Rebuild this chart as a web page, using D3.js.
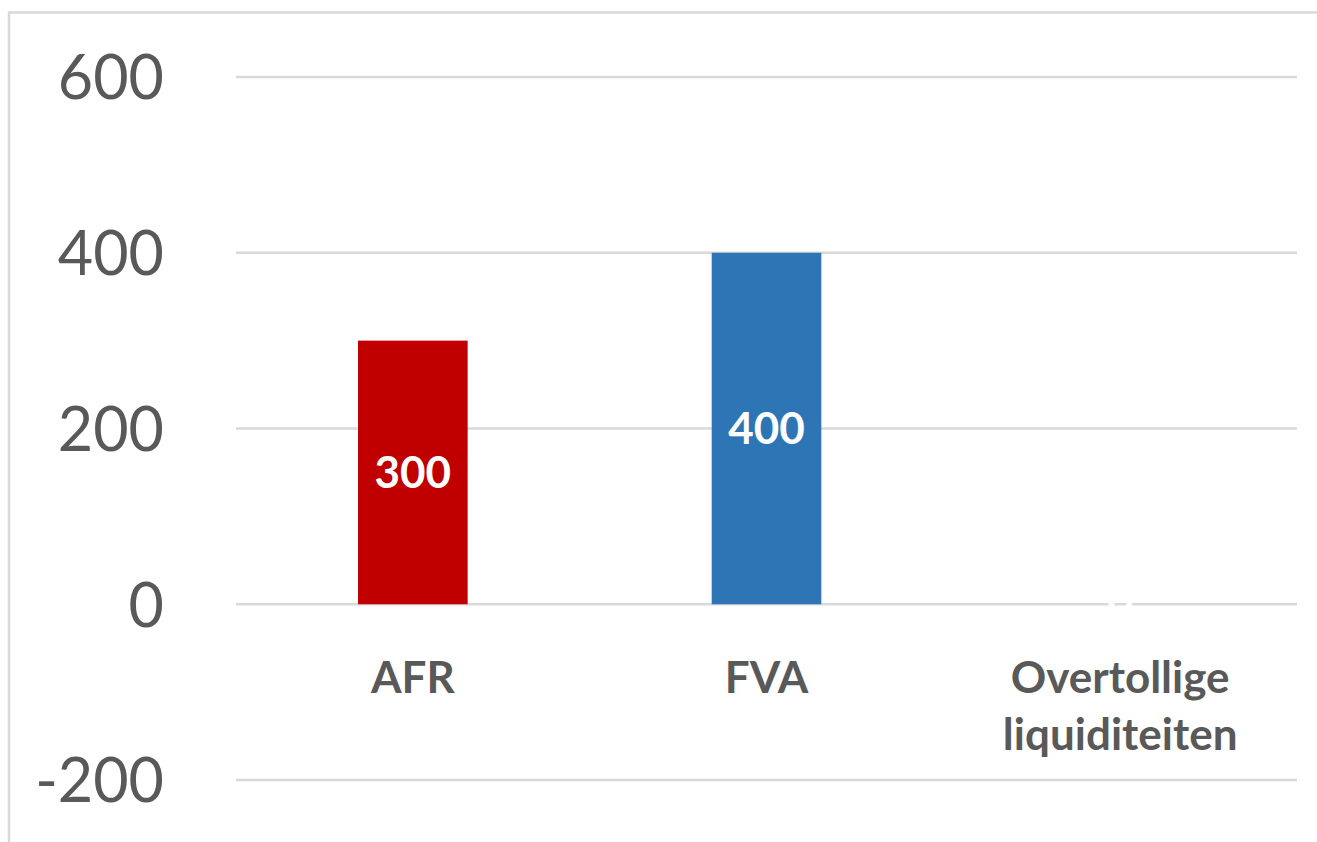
<!DOCTYPE html>
<html>
<head>
<meta charset="utf-8">
<script src="https://cdn.jsdelivr.net/npm/d3@7"></script>
<style>
  html, body { margin: 0; padding: 0; background: #fff; }
  svg { display: block; font-family: Lato, "Open Sans", sans-serif; }
</style>
</head>
<body>
<svg id="chart" width="1317" height="842"></svg>
<script>
// chart data
var categories = [["AFR"], ["FVA"], ["Overtollige", "liquiditeiten"]];
var values = [300, 400, 0];
var barColors = ["#C00000", "#2E75B6", "#A5A5A5"];
var yTicks = [-200, 0, 200, 400, 600];

var svg = d3.select("#chart");
var margin = { top: 77, right: 20, bottom: 62, left: 236 };
var width = 1297 - margin.left;
var height = 780 - margin.top;

// frame (only top and left edges visible in the original)
svg.append("path")
    .attr("d", "M9,842V12.5H1317")
    .attr("fill", "none")
    .attr("stroke", "#d9d9d9")
    .attr("stroke-width", 2.5);

var g = svg.append("g")
    .attr("transform", "translate(" + margin.left + "," + margin.top + ")");

var x = d3.scaleBand()
    .domain(d3.range(categories.length))
    .range([0, width])
    .paddingInner(0.69)
    .paddingOuter(0.345);

var y = d3.scaleLinear()
    .domain([-200, 600])
    .range([height, 0]);

// gridlines
g.append("g")
    .selectAll("line")
    .data(yTicks)
    .enter()
    .append("line")
    .attr("x1", 0)
    .attr("x2", width)
    .attr("y1", function (d) { return y(d); })
    .attr("y2", function (d) { return y(d); })
    .attr("stroke", "#d9d9d9")
    .attr("stroke-width", 2.5);

// y axis labels (plain hyphen for negatives, like the original)
var yAxis = g.append("g")
    .call(d3.axisLeft(y).tickValues(yTicks).tickSize(0).tickPadding(72)
        .tickFormat(function (d) { return String(d); }));
yAxis.select(".domain").remove();
yAxis.selectAll("text")
    .attr("fill", "#595959")
    .attr("font-family", "Lato, sans-serif")
    .attr("font-size", 61)
    .attr("dy", "0.36em");

// bars
g.selectAll(".bar")
    .data(values)
    .enter()
    .append("rect")
    .attr("class", "bar")
    .attr("x", function (d, i) { return x(i); })
    .attr("width", x.bandwidth())
    .attr("y", function (d) { return y(Math.max(0, d)); })
    .attr("height", function (d) { return Math.abs(y(d) - y(0)); })
    .attr("fill", function (d, i) { return barColors[i]; });

// value labels, centred in the bars
g.selectAll(".val")
    .data(values)
    .enter()
    .append("text")
    .attr("class", "val")
    .attr("x", function (d, i) { return x(i) + x.bandwidth() / 2; })
    .attr("y", function (d) { return (y(d) + y(0)) / 2; })
    .attr("dy", "0.36em")
    .attr("text-anchor", "middle")
    .attr("fill", "#fff")
    .attr("font-weight", "bold")
    .attr("font-size", 44)
    .text(function (d) { return d; });

// category labels
var cat = g.selectAll(".cat")
    .data(categories)
    .enter()
    .append("text")
    .attr("class", "cat")
    .attr("text-anchor", "middle")
    .attr("fill", "#595959")
    .attr("font-weight", "bold")
    .attr("font-size", 44)
    .attr("transform", function (d, i) {
        return "translate(" + (x(i) + x.bandwidth() / 2) + "," + (y(0) + 89) + ")";
    });
cat.selectAll("tspan")
    .data(function (d) { return d; })
    .enter()
    .append("tspan")
    .attr("x", 0)
    .attr("dy", function (d, i) { return i === 0 ? 0 : 57; })
    .text(function (d) { return d; });
</script>
</body>
</html>
